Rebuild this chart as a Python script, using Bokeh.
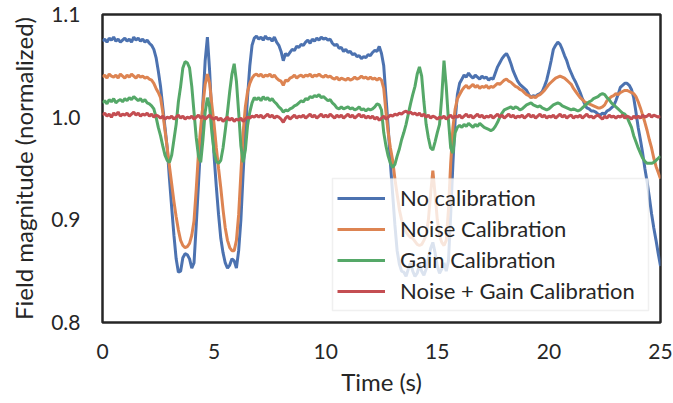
import numpy as np
from bokeh.plotting import figure
from bokeh.models import (Legend, LegendItem, FixedTicker, NumeralTickFormatter,
                          Range1d, BoxAnnotation)
from bokeh.embed import file_html
from bokeh.resources import INLINE

# time grid (s), 0.1 s sampling
time_s = np.round(np.arange(0, 251) * 0.1, 1)

no_cal = [
    1.074, 1.076, 1.073, 1.077, 1.075, 1.078, 1.074, 1.076, 1.073, 1.075,
    1.077, 1.074, 1.076, 1.073, 1.078, 1.075, 1.077, 1.074, 1.076, 1.073,
    1.075, 1.072, 1.070, 1.066, 1.058, 1.045, 1.030, 1.010, 0.990, 0.970,
    0.940, 0.912, 0.885, 0.862, 0.849, 0.850, 0.863, 0.867, 0.866, 0.862,
    0.853, 0.858, 0.895, 0.935, 0.975, 1.015, 1.055, 1.078, 1.045, 1.000,
    0.962, 0.932, 0.905, 0.882, 0.868, 0.858, 0.853, 0.856, 0.862, 0.860,
    0.853, 0.870, 0.900, 0.945, 0.985, 1.020, 1.050, 1.070, 1.077, 1.079,
    1.076, 1.078, 1.075, 1.079, 1.076, 1.077, 1.074, 1.078, 1.073, 1.070,
    1.064, 1.055, 1.062, 1.060, 1.063, 1.066, 1.065, 1.069, 1.068, 1.071,
    1.070, 1.073, 1.075, 1.072, 1.076, 1.074, 1.077, 1.075, 1.078, 1.076,
    1.077, 1.075, 1.076, 1.072, 1.070, 1.071, 1.067, 1.068, 1.064, 1.066,
    1.063, 1.064, 1.061, 1.062, 1.059, 1.060, 1.057, 1.059, 1.058, 1.061,
    1.060, 1.063, 1.065, 1.064, 1.069, 1.062, 1.050, 1.020, 0.990, 0.955,
    0.925, 0.895, 0.870, 0.857, 0.850, 0.849, 0.845, 0.852, 0.858, 0.850,
    0.845, 0.848, 0.856, 0.850, 0.846, 0.852, 0.862, 0.872, 0.878, 0.868,
    0.855, 0.848, 0.852, 0.858, 0.850, 0.860, 0.905, 0.955, 0.997, 1.022,
    1.033, 1.037, 1.041, 1.039, 1.043, 1.040, 1.038, 1.041, 1.039, 1.037,
    1.040, 1.038, 1.039, 1.036, 1.038, 1.037, 1.043, 1.049, 1.053, 1.057,
    1.060, 1.062, 1.058, 1.052, 1.045, 1.040, 1.035, 1.032, 1.030, 1.028,
    1.026, 1.022, 1.019, 1.021, 1.020, 1.022, 1.023, 1.025, 1.030, 1.036,
    1.045, 1.055, 1.066, 1.070, 1.073, 1.071, 1.066, 1.060, 1.055, 1.048,
    1.043, 1.038, 1.034, 1.029, 1.024, 1.018, 1.013, 1.009, 1.008, 1.006,
    1.006, 1.005, 1.003, 1.002, 1.004, 1.003, 1.006, 1.007, 1.009, 1.011,
    1.016, 1.022, 1.029, 1.031, 1.033, 1.033, 1.031, 1.027, 1.019, 1.005,
    0.990, 0.978, 0.965, 0.950, 0.937, 0.922, 0.906, 0.892, 0.880, 0.867,
    0.855,
]

noise_cal = [
    1.039, 1.041, 1.038, 1.042, 1.040, 1.039, 1.041, 1.038, 1.042, 1.040,
    1.038, 1.041, 1.039, 1.042, 1.040, 1.038, 1.041, 1.039, 1.040, 1.038,
    1.039, 1.037, 1.036, 1.033, 1.028, 1.024, 1.019, 1.005, 0.987, 0.970,
    0.952, 0.935, 0.918, 0.903, 0.890, 0.880, 0.875, 0.873, 0.874, 0.877,
    0.885, 0.899, 0.930, 0.965, 0.990, 1.012, 1.032, 1.042, 1.033, 1.012,
    0.993, 0.970, 0.950, 0.931, 0.910, 0.892, 0.880, 0.873, 0.870, 0.870,
    0.880, 0.905, 0.945, 0.985, 1.010, 1.025, 1.033, 1.038, 1.041, 1.042,
    1.040, 1.042, 1.039, 1.041, 1.040, 1.042, 1.039, 1.041, 1.038, 1.036,
    1.035, 1.031, 1.036, 1.035, 1.038, 1.039, 1.041, 1.038, 1.040, 1.041,
    1.039, 1.041, 1.040, 1.042, 1.039, 1.041, 1.040, 1.042, 1.040, 1.039,
    1.041, 1.039, 1.040, 1.038, 1.037, 1.039, 1.036, 1.038, 1.037, 1.036,
    1.038, 1.036, 1.037, 1.039, 1.037, 1.038, 1.040, 1.038, 1.039, 1.037,
    1.039, 1.037, 1.038, 1.036, 1.038, 1.036, 1.028, 1.005, 0.985, 0.970,
    0.958, 0.940, 0.925, 0.910, 0.900, 0.893, 0.888, 0.885, 0.883, 0.882,
    0.879, 0.876, 0.875, 0.876, 0.880, 0.885, 0.900, 0.925, 0.948, 0.925,
    0.900, 0.885, 0.878, 0.875, 0.880, 0.910, 0.955, 0.990, 1.008, 1.018,
    1.022, 1.026, 1.029, 1.031, 1.028, 1.030, 1.032, 1.029, 1.031, 1.028,
    1.030, 1.029, 1.031, 1.028, 1.030, 1.029, 1.031, 1.033, 1.032, 1.034,
    1.036, 1.037, 1.035, 1.034, 1.032, 1.030, 1.029, 1.027, 1.026, 1.024,
    1.022, 1.021, 1.019, 1.020, 1.019, 1.021, 1.022, 1.024, 1.026, 1.029,
    1.032, 1.034, 1.036, 1.038, 1.039, 1.040, 1.039, 1.038, 1.036, 1.034,
    1.032, 1.028, 1.025, 1.022, 1.019, 1.017, 1.015, 1.014, 1.013, 1.012,
    1.011, 1.010, 1.009, 1.009, 1.010, 1.012, 1.016, 1.018, 1.020, 1.021,
    1.023, 1.022, 1.024, 1.025, 1.026, 1.026, 1.025, 1.024, 1.023, 1.020,
    1.015, 1.009, 1.002, 0.995, 0.987, 0.978, 0.970, 0.960, 0.952, 0.946,
    0.940,
]

gain_cal = [
    1.014, 1.016, 1.013, 1.017, 1.015, 1.018, 1.014, 1.016, 1.017, 1.015,
    1.018, 1.016, 1.019, 1.017, 1.020, 1.018, 1.016, 1.018, 1.015, 1.017,
    1.014, 1.013, 1.011, 1.008, 1.000, 0.990, 0.982, 0.972, 0.963, 0.958,
    0.956, 0.963, 0.978, 0.993, 1.015, 1.030, 1.048, 1.054, 1.053, 1.048,
    1.030, 1.005, 0.980, 0.962, 0.956, 0.978, 1.005, 1.019, 1.010, 0.985,
    0.966, 0.957, 0.955, 0.958, 0.970, 0.987, 1.005, 1.025, 1.042, 1.052,
    1.035, 1.005, 0.972, 0.956, 0.968, 0.992, 1.005, 1.014, 1.019, 1.017,
    1.019, 1.016, 1.020, 1.017, 1.019, 1.016, 1.018, 1.015, 1.013, 1.010,
    1.008, 1.005, 1.007, 1.006, 1.008, 1.009, 1.011, 1.012, 1.014, 1.016,
    1.015, 1.018, 1.017, 1.020, 1.019, 1.021, 1.020, 1.022, 1.019, 1.020,
    1.018, 1.016, 1.017, 1.014, 1.012, 1.009, 1.008, 1.010, 1.008, 1.009,
    1.010, 1.008, 1.009, 1.007, 1.008, 1.010, 1.007, 1.008, 1.006, 1.008,
    1.007, 1.008, 1.010, 1.013, 1.012, 1.007, 0.985, 0.972, 0.962, 0.955,
    0.951, 0.954, 0.962, 0.969, 0.978, 0.985, 0.993, 1.003, 1.013, 1.022,
    1.030, 1.042, 1.049, 1.040, 1.015, 0.993, 0.980, 0.970, 0.968, 0.976,
    0.985, 0.993, 1.020, 1.055, 1.030, 0.997, 0.970, 0.965, 0.985, 0.990,
    0.992, 0.990, 0.993, 0.991, 0.994, 0.992, 0.990, 0.993, 0.991, 0.994,
    0.992, 0.990, 0.989, 0.988, 0.987, 0.988, 0.991, 0.995, 1.000, 1.004,
    1.007, 1.008, 1.009, 1.010, 1.008, 1.010, 1.009, 1.007, 1.008, 1.010,
    1.012, 1.013, 1.014, 1.012, 1.011, 1.010, 1.011, 1.009, 1.008, 1.007,
    1.008, 1.010, 1.012, 1.013, 1.014, 1.013, 1.011, 1.010, 1.009, 1.008,
    1.007, 1.008, 1.007, 1.006, 1.007, 1.009, 1.011, 1.013, 1.015, 1.016,
    1.018, 1.019, 1.020, 1.022, 1.023, 1.022, 1.019, 1.017, 1.014, 1.012,
    1.010, 1.008, 1.006, 1.004, 1.003, 1.000, 0.995, 0.990, 0.982, 0.976,
    0.970, 0.965, 0.960, 0.957, 0.955, 0.955, 0.955, 0.956, 0.958, 0.960,
    0.962,
]

noise_gain_cal = [
    1.002, 1.004, 1.001, 1.003, 1.000, 1.004, 1.002, 1.005, 1.001, 1.003,
    1.002, 1.004, 1.001, 1.003, 1.005, 1.002, 1.004, 1.001, 1.003, 1.002,
    1.004, 1.001, 1.003, 1.000, 1.002, 1.001, 0.999, 1.001, 0.998, 1.000,
    0.999, 1.001, 0.998, 1.000, 1.002, 0.999, 1.001, 0.998, 1.000, 0.999,
    1.001, 0.998, 1.000, 1.002, 0.999, 1.001, 0.998, 1.000, 1.002, 0.999,
    0.998, 1.000, 0.997, 0.999, 0.996, 0.998, 1.000, 0.997, 0.999, 0.996,
    0.998, 0.997, 0.999, 0.996, 0.998, 1.000, 0.999, 1.001, 1.000, 1.002,
    1.000, 1.002, 0.999, 1.001, 1.003, 1.000, 1.002, 0.999, 1.001, 1.000,
    0.998, 0.995, 0.999, 1.001, 0.998, 1.000, 1.002, 0.999, 1.001, 1.000,
    1.002, 0.999, 1.001, 1.003, 1.000, 1.002, 0.999, 1.001, 1.003, 1.000,
    1.002, 1.000, 1.003, 1.001, 0.999, 1.002, 1.000, 1.002, 0.999, 1.001,
    1.003, 1.000, 1.002, 0.999, 1.001, 1.003, 1.000, 1.002, 0.999, 1.001,
    0.999, 1.001, 0.998, 1.000, 0.997, 0.999, 1.001, 0.998, 1.000, 1.002,
    1.001, 1.003, 1.002, 1.004, 1.003, 1.005, 1.006, 1.004, 1.005, 1.003,
    1.004, 1.002, 1.004, 1.001, 1.003, 1.000, 1.002, 0.999, 1.001, 1.000,
    0.998, 1.000, 0.999, 1.001, 0.998, 1.000, 1.002, 0.999, 1.001, 1.000,
    1.002, 0.999, 1.001, 1.003, 1.000, 1.002, 0.999, 1.001, 1.003, 1.000,
    1.002, 0.999, 1.001, 1.000, 1.002, 0.999, 1.001, 1.003, 1.000, 1.002,
    0.999, 1.001, 1.003, 1.000, 1.002, 0.999, 1.001, 1.000, 1.002, 0.999,
    1.001, 1.003, 1.000, 1.002, 0.999, 1.001, 1.003, 1.000, 1.002, 0.999,
    1.001, 1.000, 1.002, 0.999, 1.001, 1.003, 1.000, 1.002, 0.999, 1.001,
    1.002, 0.999, 1.001, 1.000, 1.002, 0.999, 1.001, 1.003, 1.000, 1.001,
    0.999, 1.001, 1.002, 1.000, 0.998, 1.001, 0.999, 1.002, 1.000, 1.001,
    0.999, 1.001, 1.000, 1.002, 0.999, 1.001, 1.000, 0.998, 1.001, 0.999,
    1.001, 0.999, 1.002, 1.000, 1.001, 1.003, 1.000, 1.002, 1.001, 1.000,
    1.001,
]

series_labels = ["No calibration", "Noise Calibration", "Gain Calibration",
                 "Noise + Gain Calibration"]
series_colors = ["#4C72B0", "#DD8452", "#55A868", "#C44E52"]
x_ticks = [0, 5, 10, 15, 20, 25]
y_ticks = [0.8, 0.9, 1.0, 1.1]

FONT = "Lato"
TXT = "#262626"

# layout (pixels)
W, H = 673, 403
B_LEFT, B_RIGHT, B_TOP, B_BOTTOM = 102, 13, 14, 81
X0, X1, Y0, Y1 = 0, 25, 0.8, 1.1

p = figure(width=W, height=H, output_backend="svg", toolbar_location=None,
           x_range=Range1d(X0, X1), y_range=Range1d(Y0, Y1))
p.min_border_left = B_LEFT
p.min_border_right = B_RIGHT
p.min_border_top = B_TOP
p.min_border_bottom = B_BOTTOM
p.outline_line_color = TXT
p.outline_line_width = 2.5
p.grid.visible = False
p.background_fill_color = "white"
p.border_fill_color = "white"

for ax in (p.xaxis[0], p.yaxis[0]):
    ax.axis_line_color = None
    ax.major_tick_line_color = None
    ax.minor_tick_line_color = None
    ax.major_tick_in = 0
    ax.major_tick_out = 0
    ax.minor_tick_in = 0
    ax.minor_tick_out = 0
    ax.major_label_text_font = FONT
    ax.major_label_text_font_size = "21px"
    ax.major_label_text_color = TXT
    ax.axis_label_text_font = FONT
    ax.axis_label_text_font_size = "24px"
    ax.axis_label_text_font_style = "normal"
    ax.axis_label_text_color = TXT

p.xaxis.ticker = FixedTicker(ticks=x_ticks)
p.yaxis.ticker = FixedTicker(ticks=y_ticks)
p.yaxis.formatter = NumeralTickFormatter(format="0.0")
p.xaxis.axis_label = "Time (s)"
p.yaxis.axis_label = "Field magnitude (normalized)"
p.xaxis.major_label_standoff = 21
p.yaxis.major_label_standoff = 22
p.xaxis.axis_label_standoff = 5
p.yaxis.axis_label_standoff = 10

items = []
for vals, lab, col in zip([no_cal, noise_cal, gain_cal, noise_gain_cal],
                          series_labels, series_colors):
    r = p.line(time_s, vals, line_color=col, line_width=3)
    items.append(LegendItem(label=lab, renderers=[r]))

# legend frame: pixel box 332..648 x 178..310 converted to data units
fw = W - B_LEFT - B_RIGHT
fh = H - B_TOP - B_BOTTOM
def px_x(px):
    return X0 + (px - B_LEFT) / fw * (X1 - X0)
def px_y(py):
    return Y1 - (py - B_TOP) / fh * (Y1 - Y0)

frame_box = BoxAnnotation(left=px_x(332), right=px_x(648),
                          top=px_y(178), bottom=px_y(310),
                          fill_color="white", fill_alpha=0.8,
                          line_color="#cccccc", line_width=1.5)
p.add_layout(frame_box)

legend = Legend(items=items, location=(235, 18))
legend.label_text_font = FONT
legend.label_text_font_size = "22px"
legend.label_text_color = TXT
legend.border_line_color = None
legend.background_fill_alpha = 0
legend.glyph_width = 48
legend.glyph_height = 22
legend.label_height = 22
legend.spacing = 4
legend.padding = 5
legend.margin = 0
legend.label_standoff = 15
p.add_layout(legend)

open("out.html", "w").write(file_html(p, INLINE))
